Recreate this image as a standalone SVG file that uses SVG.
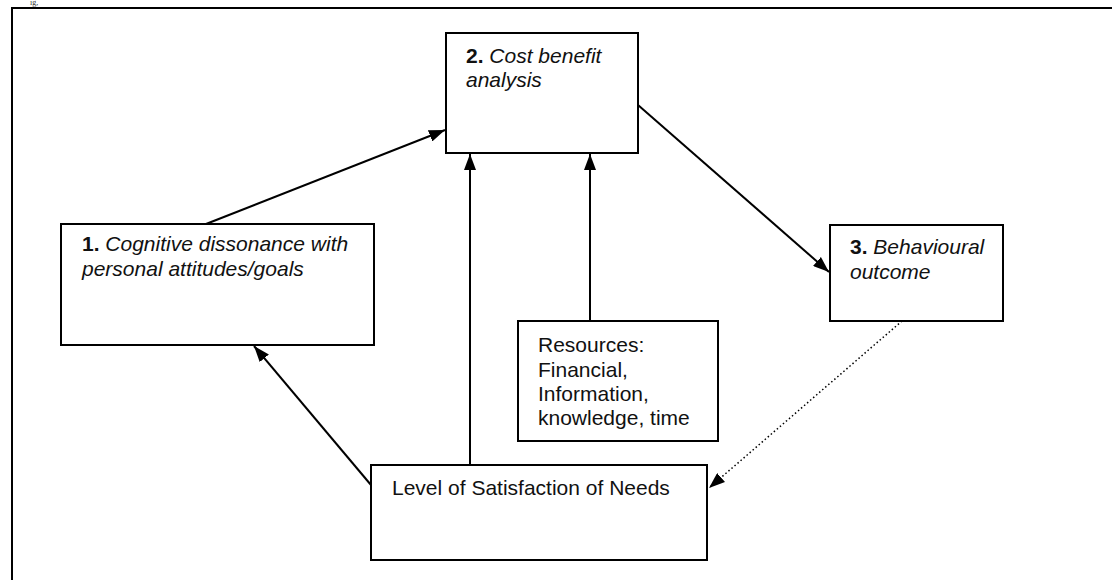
<svg xmlns="http://www.w3.org/2000/svg" width="1112" height="580" viewBox="0 0 1112 580">
<style>
.box{fill:#fff;stroke:#000;stroke-width:2}
.t{font-family:"Liberation Sans",Arial,sans-serif;font-size:21px;fill:#111}
.b{font-weight:bold;font-style:normal}
.i{font-style:italic}
.c{stroke:#000;stroke-width:2;fill:none}
.d{stroke:#000;stroke-width:1.5;fill:none;stroke-dasharray:1.5 2.5}
</style>
<defs>
<marker id="ah" viewBox="0 0 16 12" refX="16" refY="6" markerWidth="16" markerHeight="12" markerUnits="userSpaceOnUse" orient="auto">
<path d="M0,0 L16,6 L0,12 Z" fill="#000"/>
</marker>
</defs>
<rect width="1112" height="580" fill="#fff"/>
<text x="30" y="5" style="font-family:'Liberation Serif',serif;font-size:8px;fill:#333">ig,</text>
<path d="M12,580 L12,8 L1112,8" fill="none" stroke="#000" stroke-width="2"/>
<g id="connectors">
<path class="c" d="M206,224 L445,130" marker-end="url(#ah)"/>
<path class="c" d="M470,465 L470,154" marker-end="url(#ah)"/>
<path class="c" d="M590,321 L590,154" marker-end="url(#ah)"/>
<path class="c" d="M638,105 L829,272" marker-end="url(#ah)"/>
<path class="c" d="M371,485 L254,346" marker-end="url(#ah)"/>
<path class="d" d="M902,321 L709,488" marker-end="url(#ah)"/>
</g>
<g id="node2">
<rect class="box" x="446" y="33" width="192" height="120"/>
<text class="t" x="466" y="63"><tspan class="b">2.</tspan><tspan class="i"> Cost benefit</tspan></text>
<text class="t i" x="466" y="87">analysis</text>
</g>
<g id="node1">
<rect class="box" x="61" y="224" width="313" height="121"/>
<text class="t" x="82" y="251"><tspan class="b">1.</tspan><tspan class="i"> Cognitive dissonance with</tspan></text>
<text class="t i" x="82" y="276">personal attitudes/goals</text>
</g>
<g id="node3">
<rect class="box" x="830" y="225" width="173" height="96"/>
<text class="t" x="850" y="254"><tspan class="b">3.</tspan><tspan class="i"> Behavioural</tspan></text>
<text class="t i" x="850" y="279">outcome</text>
</g>
<g id="resources">
<rect class="box" x="518" y="321" width="200" height="120"/>
<text class="t" x="538" y="352">Resources:</text>
<text class="t" x="538" y="377">Financial,</text>
<text class="t" x="538" y="401">Information,</text>
<text class="t" x="538" y="425">knowledge, time</text>
</g>
<g id="needs">
<rect class="box" x="371" y="465" width="336" height="95"/>
<text class="t" x="392" y="495">Level of Satisfaction of Needs</text>
</g>
</svg>
